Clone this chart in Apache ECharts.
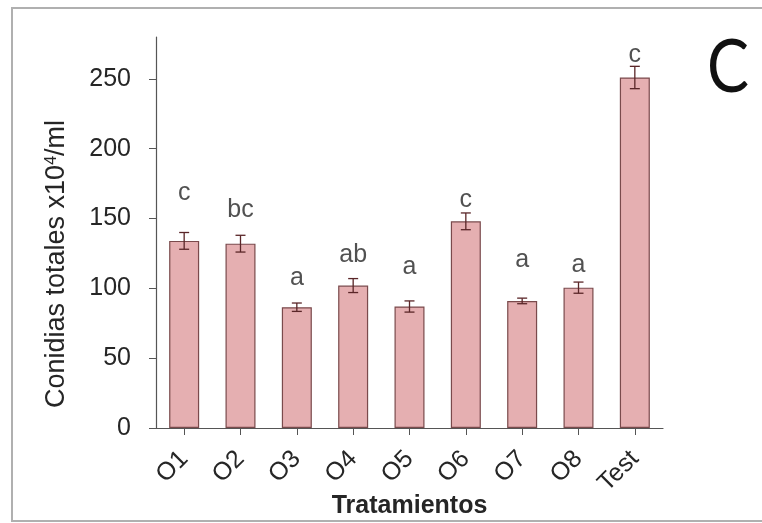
<!DOCTYPE html>
<html>
<head>
<meta charset="utf-8">
<script src="https://cdn.jsdelivr.net/npm/echarts@6/dist/echarts.min.js"></script>
<style>
html,body{margin:0;padding:0;background:#fff;}
#chart{width:762px;height:523px;}
</style>
</head>
<body>
<div id="chart"></div>
<script>
var categories = ['O1','O2','O3','O4','O5','O6','O7','O8','Test'];
var values = [134, 132, 86.5, 102, 87, 148, 91, 100.5, 251];
var errors = [6, 6, 3, 5, 4, 6, 2, 4, 8];
var letters = ['c','bc','a','ab','a','c','a','a','c'];
var letterY = [168.5, 156, 107, 123.5, 115, 163.5, 120, 116.5, 267];
var yTicks = [0, 50, 100, 150, 200, 250];

var chart = echarts.init(document.getElementById('chart'));
var textColor = '#262626';
var font = '"Liberation Sans", Arial, sans-serif';

var errData = categories.map(function (c, i) { return [i, values[i] - errors[i], values[i] + errors[i]]; });
var letterData = categories.map(function (c, i) { return [i, letterY[i], letters[i]]; });

var option = {
  animation: false,
  backgroundColor: '#ffffff',
  grid: { left: 156, right: 99, top: 37, bottom: 95, containLabel: false, outerBoundsMode: 'none' },
  xAxis: {
    type: 'category',
    data: categories,
    name: 'Tratamientos',
    nameLocation: 'middle',
    nameGap: 66,
    nameMoveOverlap: false,
    nameTextStyle: { fontFamily: font, fontSize: 25, fontWeight: 'bold', color: textColor },
    axisLine: { lineStyle: { color: '#555', width: 1.2 } },
    axisTick: { show: true, alignWithLabel: true, length: 7, lineStyle: { color: '#555' } },
    axisLabel: { rotate: 45, fontFamily: font, fontSize: 25, color: textColor, margin: 27 }
  },
  yAxis: {
    type: 'value',
    min: 0,
    max: 280,
    interval: 50,
    splitLine: { show: false },
    axisLine: { show: true, lineStyle: { color: '#555', width: 1.2 } },
    axisTick: { show: true, length: 7, lineStyle: { color: '#555' }, customValues: yTicks },
    axisLabel: { fontFamily: font, fontSize: 25, color: textColor, margin: 25, customValues: yTicks }
  },
  series: [
    {
      type: 'bar',
      data: values,
      barWidth: 30,
      itemStyle: { color: '#e5afb1', borderColor: '#7a4a4c', borderWidth: 1.2 },
      z: 2
    },
    {
      type: 'custom',
      data: errData,
      z: 5,
      renderItem: function (params, api) {
        var x = api.value(0);
        var lo = api.coord([x, api.value(1)]);
        var hi = api.coord([x, api.value(2)]);
        var hw = 5;
        var st = { stroke: '#5a2628', lineWidth: 1.3 };
        return {
          type: 'group',
          children: [
            { type: 'line', shape: { x1: hi[0], y1: hi[1], x2: lo[0], y2: lo[1] }, style: st },
            { type: 'line', shape: { x1: hi[0] - hw, y1: hi[1], x2: hi[0] + hw, y2: hi[1] }, style: st },
            { type: 'line', shape: { x1: lo[0] - hw, y1: lo[1], x2: lo[0] + hw, y2: lo[1] }, style: st }
          ]
        };
      }
    },
    {
      type: 'scatter',
      data: letterData,
      symbolSize: 0,
      z: 6,
      label: {
        show: true,
        position: 'inside',
        formatter: function (p) { return p.value[2]; },
        fontFamily: font,
        fontSize: 25,
        color: textColor
      }
    }
  ],
  graphic: [
    {
      type: 'rect',
      shape: { x: 12, y: 8, width: 800, height: 513 },
      style: { fill: 'none', stroke: '#b0b0b0', lineWidth: 2 },
      silent: true
    },
    {
      type: 'text',
      x: 57, y: 264,
      rotation: Math.PI / 2,
      style: {
        text: 'Conidias totales x10{sup|4}/ml',
        fontFamily: font,
        fontSize: 27,
        fill: textColor,
        align: 'center',
        verticalAlign: 'middle',
        rich: {
          sup: { fontFamily: font, fontSize: 16, fill: textColor, verticalAlign: 'top', padding: [0, 0, 10, 0] }
        }
      }
    },
    {
      type: 'text',
      x: 728, y: 68,
      scaleX: 0.85,
      style: {
        text: 'C',
        fontFamily: 'Lato, "Open Sans", sans-serif',
        fontSize: 74,
        fill: '#111',
        align: 'center',
        verticalAlign: 'middle'
      }
    }
  ]
};
chart.setOption(option);
</script>
</body>
</html>
